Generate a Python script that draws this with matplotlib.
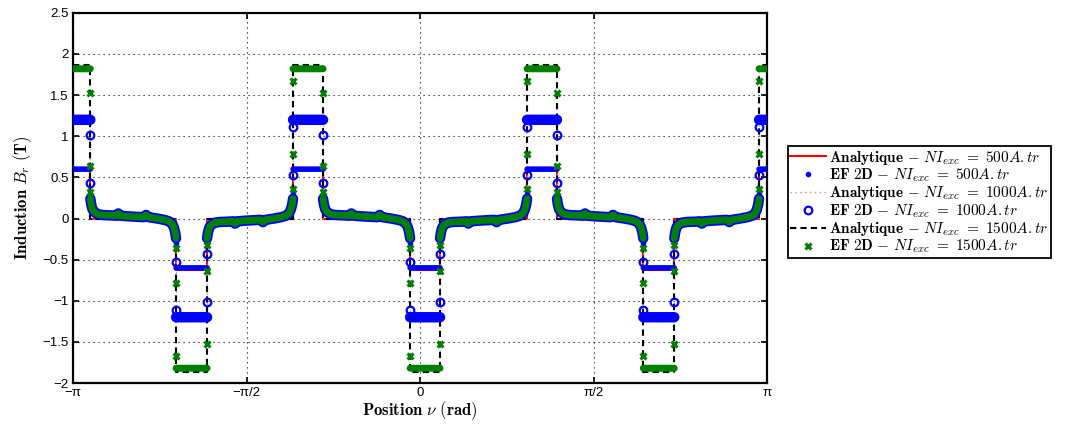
import numpy as np
import matplotlib
matplotlib.use('Agg')
import matplotlib.pyplot as plt

plt.rcParams['mathtext.fontset'] = 'cm'
plt.rcParams['font.family'] = ['Liberation Sans', 'DejaVu Sans']

# ---------------- data ----------------
# Magnet pulses (rad). Pulse 0 wraps round +/- pi.
lead_edges = [3.069, -2.209, -1.150, -0.090, 0.969, 2.021]    # edge met first going towards +nu
trail_edges = [-2.985, -1.928, -0.878, 0.181, 1.240, 2.302]   # edge met last
pulse_sign = [1, -1, 1, -1, 1, -1]

# Analytic plateau amplitudes (T)
amp_ana_500 = 0.62
amp_ana_1000 = 1.24
amp_ana_1500 = 1.87

# FE 2D plateau amplitudes (T)
amp_fe_500 = 0.60
amp_fe_1000 = 1.20
amp_fe_1500 = 1.82

# FE 2D values between the pulses (gap going from a + pulse to a - pulse),
# position as fraction of the gap, value in T
bg_frac = [0.0, 0.01, 0.025, 0.05, 0.09, 0.15, 0.25, 0.30, 0.325, 0.35, 0.45,
           0.62, 0.65, 0.68, 0.78, 0.87, 0.92, 0.955, 0.975, 0.99, 1.0]
bg_val = [0.24, 0.17, 0.11, 0.075, 0.05, 0.042, 0.038, 0.034, 0.062, 0.034, 0.026,
          0.016, 0.044, 0.016, 0.0, -0.018, -0.035, -0.065, -0.11, -0.17, -0.24]

# FE 2D isolated points on the pulse edges (fraction of the plateau)
lead_rel_500 = [0.50]
trail_rel_500 = [0.45]
lead_rel_1000 = [0.93, 0.44]
trail_rel_1000 = [0.85, 0.36]
lead_rel_1500 = [0.92, 0.43, 0.20]
trail_rel_1500 = [0.84, 0.35, 0.18]

xtick_labels = ['\u2212\u03c0', '\u2212\u03c0/2', '0', '\u03c0/2', '\u03c0']
ytick_values = [-2, -1.5, -1, -0.5, 0, 0.5, 1, 1.5, 2, 2.5]
ytick_labels = ['\u22122', '\u22121.5', '\u22121', '\u22120.5', '0', '0.5', '1', '1.5', '2', '2.5']

legend_labels = [
    r'$\mathbf{Analytique}\ \mathbf{{-}}\ NI_{exc}\ =\ 500A{.}tr$',
    r'$\mathbf{EF\ 2D}\ \mathbf{{-}}\ NI_{exc}\ =\ 500A{.}tr$',
    r'$\mathbf{Analytique}\ \mathbf{{-}}\ NI_{exc}\ =\ 1000A{.}tr$',
    r'$\mathbf{EF\ 2D}\ \mathbf{{-}}\ NI_{exc}\ =\ 1000A{.}tr$',
    r'$\mathbf{Analytique}\ \mathbf{{-}}\ NI_{exc}\ =\ 1500A{.}tr$',
    r'$\mathbf{EF\ 2D}\ \mathbf{{-}}\ NI_{exc}\ =\ 1500A{.}tr$',
]


def analytic_path(amp):
    xs = [-np.pi, trail_edges[0], trail_edges[0]]
    ys = [pulse_sign[0] * amp, pulse_sign[0] * amp, 0]
    for k in range(1, len(lead_edges)):
        s = pulse_sign[k] * amp
        xs += [lead_edges[k], lead_edges[k], trail_edges[k], trail_edges[k]]
        ys += [0, s, s, 0]
    xs += [lead_edges[0], lead_edges[0], np.pi]
    ys += [0, pulse_sign[0] * amp, pulse_sign[0] * amp]
    return xs, ys


def fe_band(amp):
    xs, ys = [], []
    n = len(lead_edges)
    for k in range(n):
        t = trail_edges[k]
        l = lead_edges[(k + 1) % n]
        s = pulse_sign[k]
        xs += [t + f * (l - t) for f in bg_frac] + [np.nan]
        ys += [s * v for v in bg_val] + [np.nan]
    xs += [-np.pi, trail_edges[0], np.nan, lead_edges[0], np.pi, np.nan]
    ys += [pulse_sign[0] * amp] * 2 + [np.nan] + [pulse_sign[0] * amp] * 2 + [np.nan]
    for k in range(1, n):
        xs += [lead_edges[k], trail_edges[k], np.nan]
        ys += [pulse_sign[k] * amp] * 2 + [np.nan]
    return xs, ys


def fe_edge_points(amp, lead_rel, trail_rel):
    xs, ys = [], []
    for k in range(len(lead_edges)):
        s = pulse_sign[k] * amp
        for r in lead_rel:
            xs.append(lead_edges[k]); ys.append(s * r)
        for r in trail_rel:
            xs.append(trail_edges[k]); ys.append(s * r)
    return xs, ys


fig = plt.figure(figsize=(10.68, 4.28), dpi=100)
ax = fig.add_axes([0.0684, 0.105, 0.6498, 0.865])

blue = '#0000ff'
green = '#008000'
tan = '#d9906a'

handles = []
x, y = analytic_path(amp_ana_500)
h, = ax.plot(x, y, color='#ff0000', lw=1.5, zorder=2, label=legend_labels[0])
handles.append(h)

x, y = fe_band(amp_fe_500)
ax.plot(x, y, color=blue, lw=4.0, solid_capstyle='round', solid_joinstyle='round', zorder=3)
x, y = fe_edge_points(amp_fe_500, lead_rel_500, trail_rel_500)
h, = ax.plot(x, y, ls='none', marker='.', ms=6, color=blue, zorder=3, label=legend_labels[1])
handles.append(h)

x, y = analytic_path(amp_ana_1000)
h, = ax.plot(x, y, color=tan, lw=1.0, ls=(0, (1, 2.5)), zorder=2, label=legend_labels[2])
handles.append(h)

x, y = fe_band(amp_fe_1000)
ax.plot(x, y, color=blue, lw=7.5, solid_capstyle='round', solid_joinstyle='round', zorder=3)
x, y = fe_edge_points(amp_fe_1000, lead_rel_1000, trail_rel_1000)
h, = ax.plot(x, y, ls='none', marker='o', ms=5.5, mfc='none', mec=blue, mew=1.6,
             zorder=3.1, label=legend_labels[3])
handles.append(h)

x, y = analytic_path(amp_ana_1500)
h, = ax.plot(x, y, color='black', lw=1.5, ls=(0, (3, 2)), zorder=2, label=legend_labels[4])
handles.append(h)

x, y = fe_band(amp_fe_1500)
ax.plot(x, y, color=green, lw=5.0, solid_capstyle='round', solid_joinstyle='round', zorder=3.2)
x, y = fe_edge_points(amp_fe_1500, lead_rel_1500, trail_rel_1500)
h, = ax.plot(x, y, ls='none', marker='x', ms=4, mew=2.2, color=green, zorder=3.3,
             label=legend_labels[5])
handles.append(h)

ax.set_xlim(-np.pi, np.pi)
ax.set_ylim(-2, 2.5)
ax.set_xticks([-np.pi, -np.pi / 2, 0, np.pi / 2, np.pi])
ax.set_xticklabels(xtick_labels)
ax.set_yticks(ytick_values)
ax.set_yticklabels(ytick_labels)
ax.tick_params(direction='in', top=True, right=True, length=4, width=1.2,
               labelsize=9.5, pad=3)
ax.grid(True, color='black', ls=(0, (1, 3.5)), lw=0.8)
for sp in ax.spines.values():
    sp.set_linewidth(1.6)

ax.set_xlabel(r'$\mathbf{Position}\ \nu\ \mathbf{(rad)}$', fontsize=12, labelpad=0)
ax.set_ylabel(r'$\mathbf{Induction}\ B_r\ \mathbf{(T)}$', fontsize=12, labelpad=6)

leg = ax.legend(handles=handles, loc='upper left', bbox_to_anchor=(0.738, 0.658),
                bbox_transform=fig.transFigure, fontsize=11, frameon=True,
                fancybox=False, framealpha=1, edgecolor='black', borderpad=0.15,
                labelspacing=0.0, handlelength=2.3, handletextpad=0.25,
                borderaxespad=0)
leg.get_frame().set_linewidth(1.3)

fig.savefig('out.png', dpi=100)
